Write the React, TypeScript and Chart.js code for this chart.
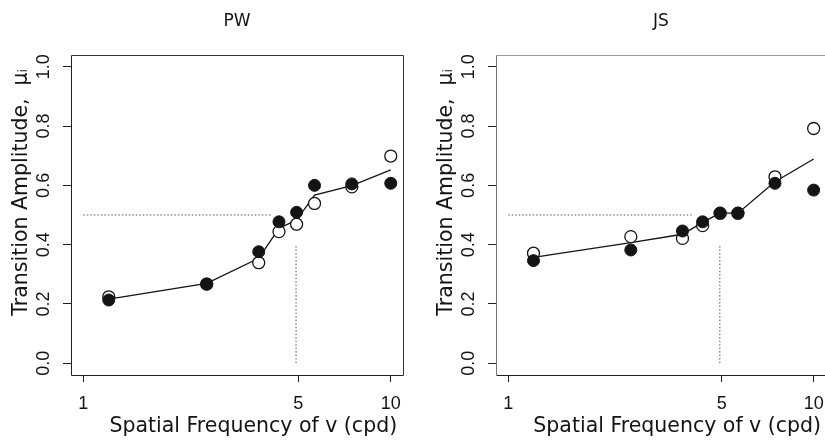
import React, { useEffect, useRef } from "react";
import { Chart, registerables } from "chart.js";

Chart.register(...registerables);

// ---- data ----
const FREQ = [1.21, 2.52, 3.72, 4.33, 4.94, 5.65, 7.47, 10];

const PW_FILLED = [0.213, 0.267, 0.376, 0.477, 0.509, 0.6, 0.605, 0.607];
const PW_OPEN = [0.224, 0.267, 0.339, 0.444, 0.469, 0.539, 0.595, 0.699];
const PW_FIT = [0.216, 0.269, 0.354, 0.455, 0.483, 0.567, 0.599, 0.652];
const PW_HREF_X = [1, 4.07];
const PW_VREF_X = [4.92, 4.92];

const JS_FILLED = [0.346, 0.382, 0.446, 0.477, 0.506, 0.506, 0.607, 0.584];
const JS_OPEN = [0.371, 0.427, 0.421, 0.464, 0.506, 0.506, 0.629, 0.792];
const JS_FIT = [0.357, 0.407, 0.435, 0.475, 0.506, 0.506, 0.612, 0.689];
const JS_HREF_X = [1, 4.05];
const JS_VREF_X = [4.93, 4.93];

const HREF_Y = [0.5, 0.5];
const VREF_Y = [0, 0.4];

const X_TICKS = [1, 5, 10];
const Y_TICKS = [0, 0.2, 0.4, 0.6, 0.8, 1.0];
const X_LIMITS = [0.912, 10.96];
const Y_LIMITS = [-0.04, 1.04];

// leading spaces shift the centred titles the way the original figure has them
const X_TITLE = "     Spatial Frequency of v (cpd)";
const Y_TITLE = "       Transition Amplitude,  μᵢ";

const TICK_FONT = { family: "'Liberation Sans', Arial, sans-serif", size: 18 };
const TITLE_FONT = { family: "'DejaVu Sans', sans-serif", size: 20.5 };
const PANEL_FONT = { family: "'DejaVu Sans', sans-serif", size: 17 };
const INK = "#141414";

const pts = (xs: number[], ys: number[]) => xs.map((x, i) => ({ x, y: ys[i] }));

type PanelProps = {
  title: string;
  left: number;
  width: number;
  padRight: number;
  filled: number[];
  open: number[];
  fit: number[];
  hrefX: number[];
  vrefX: number[];
  box: { top: string; right: string; bottom: string; left: string };
};

function Panel(p: PanelProps) {
  const ref = useRef<HTMLCanvasElement | null>(null);
  useEffect(() => {
    if (!ref.current) return;
    const boxPlugin = {
      id: "panelBox",
      afterDatasetsDraw(chart: any) {
        const { ctx, chartArea: a } = chart;
        const L = Math.round(a.left) + 0.5;
        const R = Math.round(a.right) + 0.5;
        const T = Math.round(a.top) + 0.5;
        const B = Math.round(a.bottom) + 0.5;
        const seg = (x1: number, y1: number, x2: number, y2: number, c: string) => {
          ctx.beginPath();
          ctx.strokeStyle = c;
          ctx.lineWidth = 1;
          ctx.moveTo(x1, y1);
          ctx.lineTo(x2, y2);
          ctx.stroke();
        };
        ctx.save();
        seg(L, T, R, T, p.box.top);
        seg(R, T, R, B, p.box.right);
        seg(L, B, R, B, p.box.bottom);
        seg(L, T, L, B, p.box.left);
        ctx.restore();
      },
    };
    const refLine = {
      showLine: true,
      borderColor: "#555",
      borderWidth: 1,
      borderDash: [1.5, 2],
      pointRadius: 0,
      order: 3,
    };
    const chart = new Chart(ref.current, {
      type: "scatter",
      data: {
        datasets: [
          {
            label: "filled",
            data: pts(FREQ, p.filled),
            pointRadius: 6,
            pointBackgroundColor: INK,
            pointBorderColor: INK,
            pointBorderWidth: 1,
            showLine: false,
            order: 0,
          },
          {
            label: "open",
            data: pts(FREQ, p.open),
            pointRadius: 6,
            pointBackgroundColor: "#ffffff",
            pointBorderColor: INK,
            pointBorderWidth: 1.3,
            showLine: false,
            order: 1,
          },
          {
            label: "fit",
            data: pts(FREQ, p.fit),
            showLine: true,
            borderColor: INK,
            borderWidth: 1.3,
            pointRadius: 0,
            order: 2,
          },
          { label: "h", data: pts(p.hrefX, HREF_Y), ...refLine },
          { label: "v", data: pts(p.vrefX, VREF_Y), ...refLine },
        ],
      } as any,
      options: {
        responsive: false,
        animation: false,
        layout: { padding: { left: 0, right: p.padRight, top: 0, bottom: 0 } },
        plugins: {
          legend: { display: false },
          tooltip: { enabled: false },
          title: {
            display: true,
            fullSize: false,
            text: p.title,
            color: INK,
            font: { ...PANEL_FONT, weight: "normal" },
            padding: { top: 11, bottom: 23.6 },
          },
        },
        scales: {
          x: {
            type: "logarithmic",
            min: X_LIMITS[0],
            max: X_LIMITS[1],
            bounds: "data",
            afterBuildTicks: (s: any) => {
              s.ticks = X_TICKS.map((v) => ({ value: v }));
            },
            afterFit: (s: any) => {
              s.height = 70;
            },
            ticks: {
              autoSkip: false,
              maxRotation: 0,
              minRotation: 0,
              padding: 11,
              color: INK,
              font: TICK_FONT,
              callback: (v: any) => String(v),
            },
            grid: {
              display: true,
              drawOnChartArea: false,
              drawTicks: true,
              tickLength: 7,
              color: "#222",
              lineWidth: 1,
            },
            border: { display: false },
            title: {
              display: true,
              text: X_TITLE,
              color: INK,
              font: TITLE_FONT,
              padding: { top: 0, bottom: 6 },
            },
          },
          y: {
            type: "linear",
            min: Y_LIMITS[0],
            max: Y_LIMITS[1],
            bounds: "data",
            afterBuildTicks: (s: any) => {
              s.ticks = Y_TICKS.map((v) => ({ value: v }));
            },
            afterFit: (s: any) => {
              s.width = 71;
            },
            ticks: {
              autoSkip: false,
              minRotation: 90,
              maxRotation: 90,
              crossAlign: "center",
              padding: 6.5,
              color: INK,
              font: TICK_FONT,
              callback: (v: any) => Number(v).toFixed(1),
            },
            grid: {
              display: true,
              drawOnChartArea: false,
              drawTicks: true,
              tickLength: 8,
              color: "#222",
              lineWidth: 1,
            },
            border: { display: false },
            title: {
              display: true,
              text: Y_TITLE,
              color: INK,
              font: TITLE_FONT,
              padding: { top: 9.4, bottom: 0 },
            },
          },
        },
      } as any,
      plugins: [boxPlugin],
    });
    return () => chart.destroy();
  }, []);
  return (
    <canvas
      ref={ref}
      width={p.width}
      height={445}
      style={{ position: "absolute", left: p.left, top: 0, width: p.width, height: 445 }}
    />
  );
}

export default function App() {
  return (
    <div
      style={{
        position: "fixed",
        left: 0,
        top: 0,
        width: 825,
        height: 445,
        overflow: "hidden",
        background: "#ffffff",
      }}
    >
      <Panel
        title="PW"
        left={0}
        width={415}
        padRight={12}
        filled={PW_FILLED}
        open={PW_OPEN}
        fit={PW_FIT}
        hrefX={PW_HREF_X}
        vrefX={PW_VREF_X}
        box={{ top: "#333", right: "#333", bottom: "#222", left: "#222" }}
      />
      <Panel
        title="JS"
        left={425}
        width={410}
        padRight={7}
        filled={JS_FILLED}
        open={JS_OPEN}
        fit={JS_FIT}
        hrefX={JS_HREF_X}
        vrefX={JS_VREF_X}
        box={{ top: "#999", right: "#999", bottom: "#222", left: "#777" }}
      />
    </div>
  );
}
